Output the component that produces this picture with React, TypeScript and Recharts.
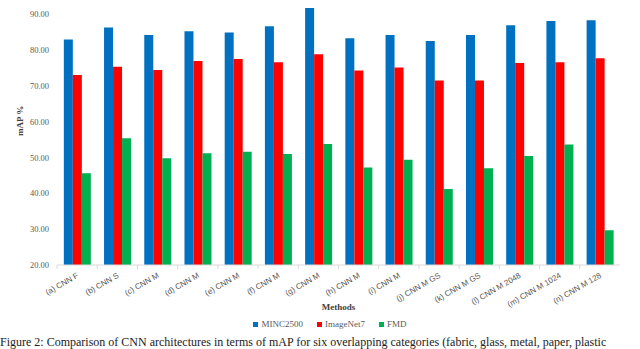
import React from 'react';
import { BarChart, Bar, XAxis, YAxis, Legend } from 'recharts';

const methods = [
  '(a) CNN F', '(b) CNN S', '(c) CNN M', '(d) CNN M', '(e) CNN M', '(f) CNN M', '(g) CNN M',
  '(h) CNN M', '(i) CNN M', '(j) CNN M GS', '(k) CNN M GS', '(l) CNN M 2048', '(m) CNN M 1024', '(n) CNN M 128',
];
const minc2500 = [82.9, 86.3, 84.2, 85.2, 84.9, 86.6, 91.7, 83.3, 84.2, 82.5, 84.2, 86.9, 88.1, 88.3];
const imagenet7 = [73.0, 75.3, 74.4, 76.9, 77.5, 76.6, 78.8, 74.3, 75.1, 71.5, 71.5, 76.4, 76.6, 77.7];
const fmd = [45.6, 55.4, 49.8, 51.2, 51.6, 51.0, 53.8, 47.2, 49.4, 41.2, 47.0, 50.4, 53.6, 29.7];
const yTicks = [20, 30, 40, 50, 60, 70, 80, 90];
const seriesNames = ['MINC2500', 'ImageNet7', 'FMD'];
const seriesColors = ['#0070C0', '#FF0000', '#00B050'];

const data = methods.map((m, i) => ({ name: m, MINC2500: minc2500[i], ImageNet7: imagenet7[i], FMD: fmd[i] }));

const FONT = '"Liberation Serif", "Times New Roman", serif';
const SANS = '"Liberation Sans", Arial, sans-serif';
const GREY = '#595959';
const BAND = 563 / methods.length;

const XTick = ({ x, y, payload }: any) => (
  <g>
    <line x1={x - BAND / 2} y1={y - 8} x2={x - BAND / 2} y2={y - 4} stroke="#d9d9d9" />
    <text
      x={x + 2}
      y={y + 4}
      transform={`rotate(-30, ${x + 2}, ${y + 4})`}
      textAnchor="end"
      fontFamily={SANS}
      fontSize={8}
      fill={GREY}
    >
      {payload.value}
    </text>
  </g>
);

// legend kept in series order (recharts 3 sorts by name otherwise)
const LegendBox = () => (
  <div style={{ display: 'flex', justifyContent: 'center', gap: 14, fontFamily: FONT, fontSize: 9, color: GREY, paddingLeft: 40 }}>
    {seriesNames.map((n, i) => (
      <span key={n} style={{ display: 'flex', alignItems: 'center', gap: 3 }}>
        <span style={{ width: 5, height: 5, background: seriesColors[i], display: 'inline-block' }} />
        {n}
      </span>
    ))}
  </div>
);

export default function App() {
  return (
    <div style={{ position: 'absolute', left: 0, top: 0, width: 640, height: 349, background: '#fff', overflow: 'hidden' }}>
      <BarChart
        width={640}
        height={349}
        data={data}
        margin={{ top: 7, right: 20, left: 0, bottom: 16 }}
        barCategoryGap="17%"
        barGap={0}
      >
        <XAxis
          dataKey="name"
          interval={0}
          height={54}
          stroke="#d9d9d9"
          tickLine={false}
          tick={<XTick />}
          label={{ value: 'Methods', position: 'insideBottom', offset: 9, fontFamily: FONT, fontSize: 9, fontWeight: 'bold', fill: '#404040' }}
        />
        <YAxis
          width={57}
          domain={[20, 92]}
          ticks={yTicks}
          allowDataOverflow
          axisLine={false}
          tickLine={false}
          tickFormatter={(v: number) => v.toFixed(2)}
          tick={{ fontFamily: FONT, fontSize: 8.5, fill: GREY }}
          label={{ value: 'mAP %', angle: -90, position: 'insideLeft', offset: 20, fontFamily: FONT, fontSize: 9, fontWeight: 'bold', fill: '#404040' }}
        />
        <Legend verticalAlign="bottom" height={14} content={<LegendBox />} />
        {seriesNames.map((n, i) => (
          <Bar key={n} dataKey={n} fill={seriesColors[i]} isAnimationActive={false} />
        ))}
      </BarChart>
      <div
        style={{
          position: 'absolute',
          left: 0,
          top: 335,
          whiteSpace: 'nowrap',
          fontFamily: FONT,
          fontSize: 12,
          lineHeight: '14px',
          color: '#222',
        }}
      >
        Figure 2: Comparison of CNN architectures in terms of mAP for six overlapping categories (fabric, glass, metal, paper, plastic
      </div>
    </div>
  );
}
